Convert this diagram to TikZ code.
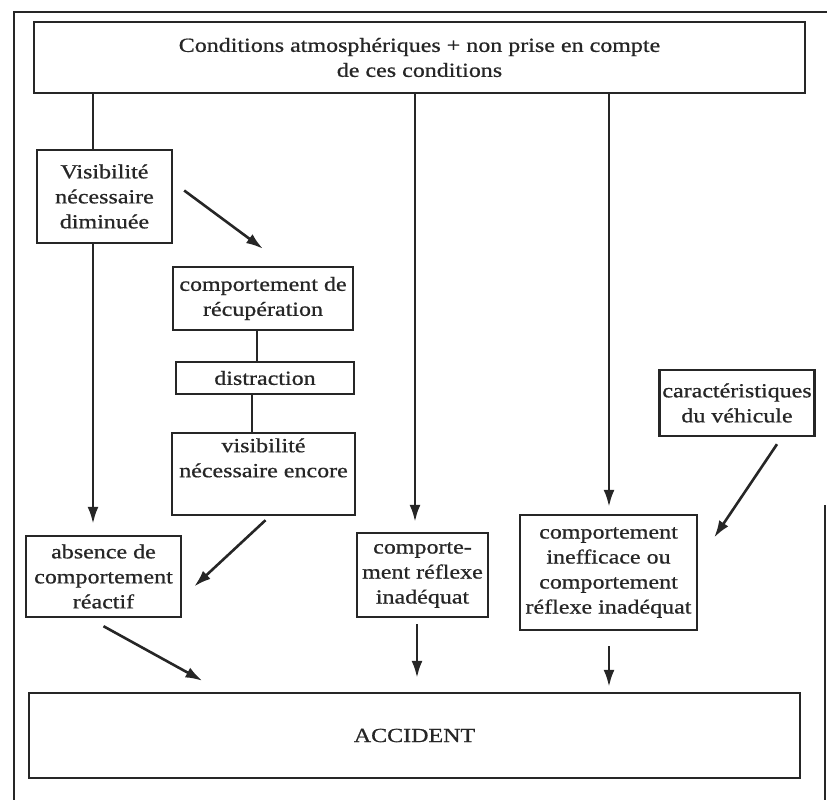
\documentclass[tikz,border=0pt]{standalone}
\usepackage{fontspec}
\setmainfont{Liberation Serif}[FakeStretch=1.2, FakeBold=0.8]
\usepackage{tikz}
\usetikzlibrary{arrows.meta, positioning, calc}

\begin{document}
\begin{tikzpicture}[x=1pt, y=-1pt, color=black!85,
  box/.style={draw, line width=2.4pt, align=center, inner sep=1pt,
    font=\fontsize{20}{25}\selectfont},
  link/.style={line width=2.4pt},
  flow/.style={line width=2.6pt, -{Latex[length=17pt,width=11pt]}}]
\useasboundingbox (0,0) rectangle (827,800);

% outer frame (cut off in the scan)
\draw[link] (14,800) -- (14,12) -- (827,12);
\draw[link] (825,505) -- (825,800);

% columns of the vertical links
\coordinate (colA) at (93,0);
\coordinate (colB) at (415,0);
\coordinate (colC) at (609,0);

% boxes
\node[box, minimum width=771pt, minimum height=71pt] (top) at (419.5,57.5)
  {Conditions atmosphériques + non prise en compte\\de ces conditions};
\node[box, minimum width=135pt, minimum height=93pt] (vis) at (104.5,196.5)
  {Visibilité\\nécessaire\\diminuée};
\node[box, minimum width=180pt, minimum height=63pt] (recup) at (263,298.5)
  {comportement de\\récupération};
\node[box, minimum width=178pt, minimum height=32pt] (distr) at (265,378)
  {distraction};
\node[box, minimum width=183pt, minimum height=82pt] (encore) at (263.5,474)
  {visibilité\\nécessaire encore\\\strut};
\node[box, minimum width=155pt, minimum height=81pt] (absence) at (103.5,576.5)
  {absence de\\comportement\\réactif};
\node[box, minimum width=131pt, minimum height=84pt] (reflexe) at (422.5,575)
  {comporte-\\ment réflexe\\inadéquat};
\node[box, minimum width=177pt, minimum height=115pt] (ineff) at (608.5,572.5)
  {comportement\\inefficace ou\\comportement\\réflexe inadéquat};
\node[box, minimum width=155pt, minimum height=66pt] (carac) at (737,403)
  {caractéristiques\\du véhicule};
\node[box, minimum width=771pt, minimum height=85pt] (accident) at (414.5,735.5)
  {ACCIDENT};

% links
\draw[link] (top.south -| colA) -- (vis.north -| colA);
\draw[flow] (vis.south -| colA) -- ($(absence.north -| colA)+(0,-11)$);
\draw[flow] ($(vis.east)+(11,-6)$) -- ($(recup.north)+(0,-17)$);
\draw[link] ($(recup.south)+(-6,0)$) -- ($(recup.south |- distr.north)+(-6,0)$);
\draw[link] ($(distr.south)+(-13,0)$) -- ($(distr.south |- encore.north)+(-13,0)$);
\draw[flow] ($(encore.south)+(2,4)$) -- ($(absence.east)+(12,10)$);
\draw[flow] ($(absence.south)+(0,8)$) -- ($(accident.north)+(-212,-11)$);

\draw[flow] (top.south -| colB) -- ($(reflexe.north -| colB)+(0,-10)$);
\draw[flow] ($(reflexe.south -| colB)+(2,6)$) -- ($(accident.north -| colB)+(2,-14)$);

\draw[flow] (top.south -| colC) -- ($(ineff.north -| colC)+(0,-7)$);
\draw[flow] ($(ineff.south -| colC)+(0,15)$) -- ($(accident.north -| colC)+(0,-5)$);
\draw[flow] ($(carac.south)+(40,7)$) -- ($(ineff.east)+(16,-35)$);
\end{tikzpicture}
\end{document}
